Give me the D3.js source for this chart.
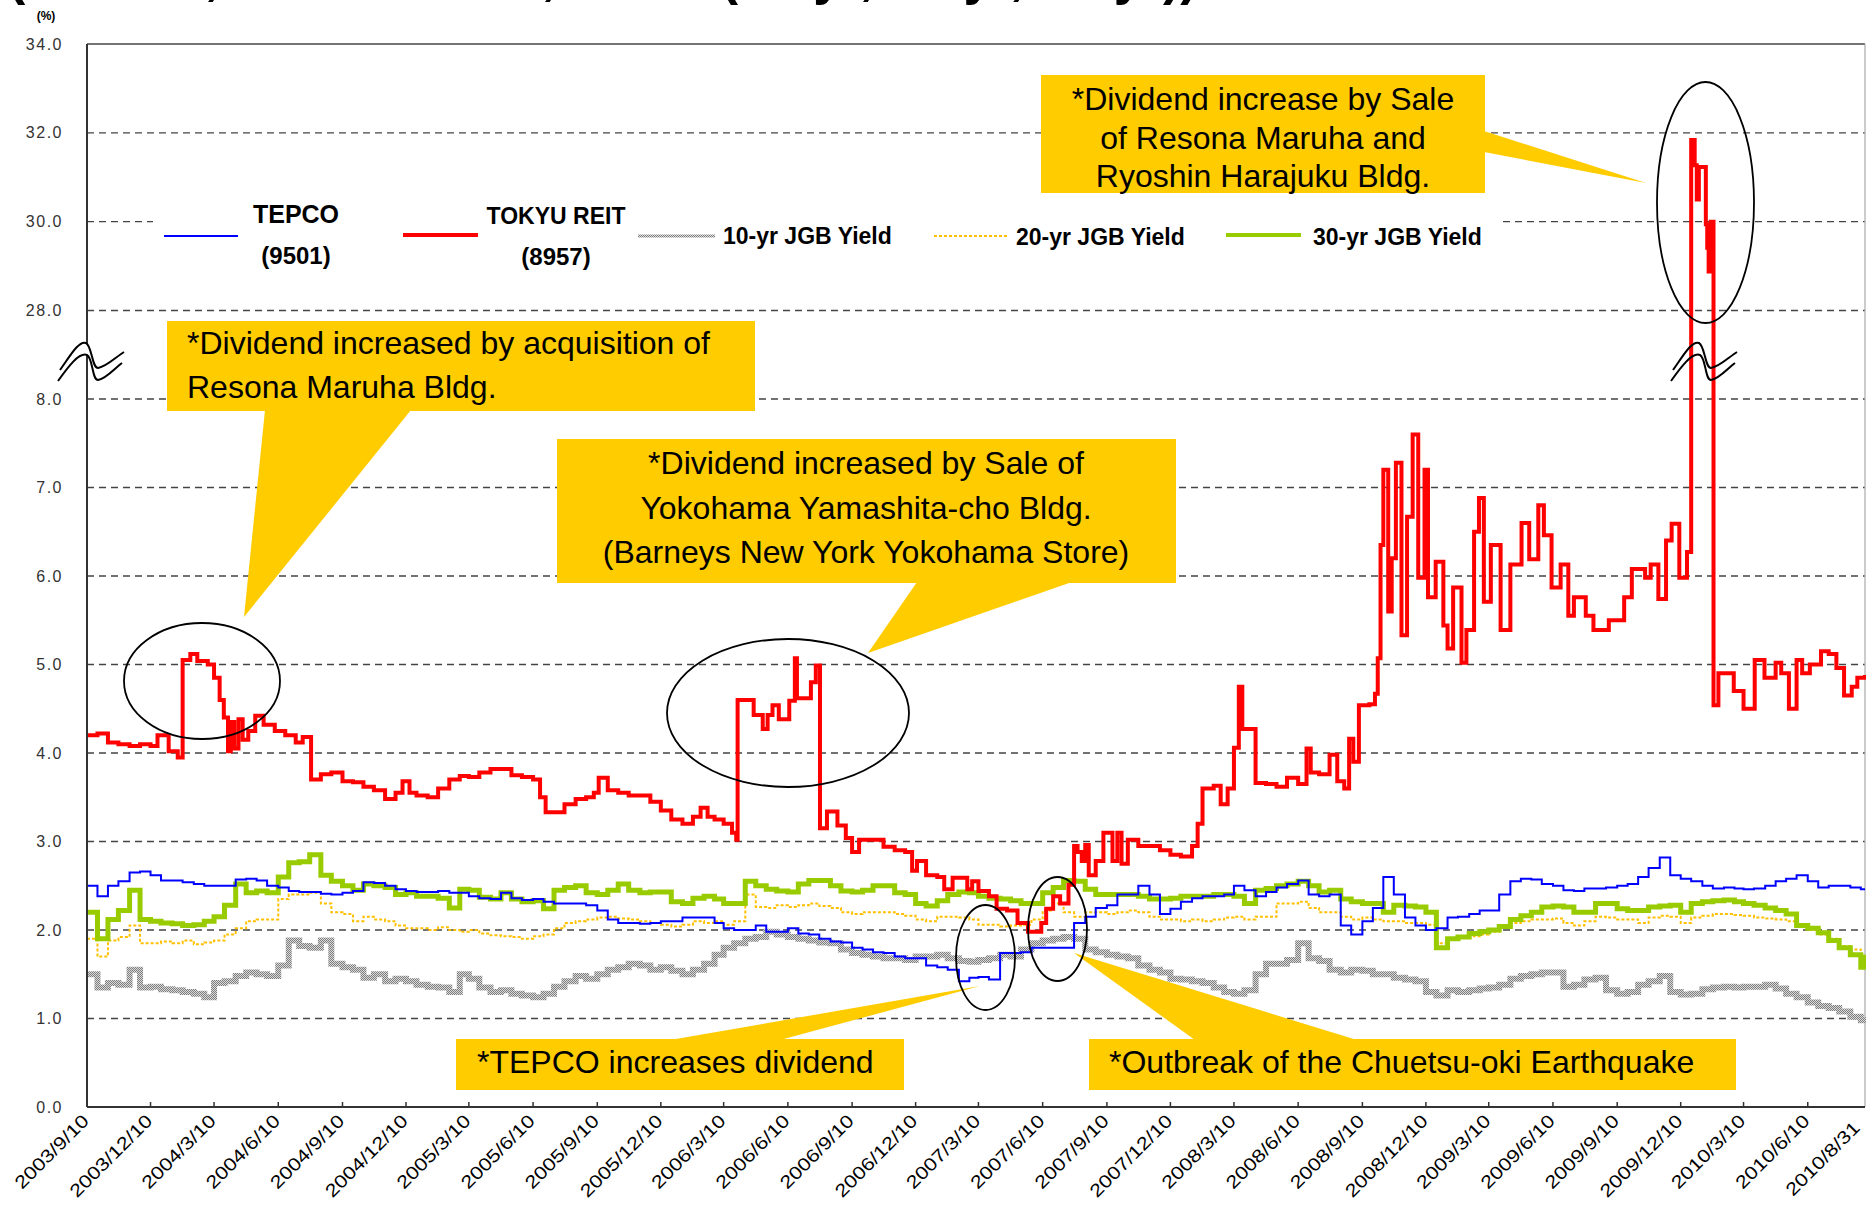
<!DOCTYPE html>
<html><head><meta charset="utf-8">
<script src="https://cdn.jsdelivr.net/npm/d3@7/dist/d3.min.js"></script>
<style>body{margin:0;background:#fff}svg{display:block}</style>
</head><body>
<svg id="c" width="1866" height="1209"></svg>
<script>
// ---------- DATA ----------
const xTickLabels = ["2003/9/10","2003/12/10","2004/3/10","2004/6/10","2004/9/10","2004/12/10","2005/3/10","2005/6/10","2005/9/10","2005/12/10","2006/3/10","2006/6/10","2006/9/10","2006/12/10","2007/3/10","2007/6/10","2007/9/10","2007/12/10","2008/3/10","2008/6/10","2008/9/10","2008/12/10","2009/3/10","2009/6/10","2009/9/10","2009/12/10","2010/3/10","2010/6/10","2010/8/31"];
const yTicks = [0,1,2,3,4,5,6,7,8,28,30,32,34];
const seriesNames = ["TEPCO\n(9501)","TOKYU REIT\n(8957)","10-yr JGB Yield","20-yr JGB Yield","30-yr JGB Yield"];

const lowDates = [
"2003-09-10","2003-09-25","2003-10-10","2003-10-25","2003-11-10","2003-11-25","2003-12-10","2003-12-25",
"2004-01-10","2004-01-25","2004-02-10","2004-02-25","2004-03-10","2004-03-25","2004-04-10","2004-04-25","2004-05-10","2004-05-25","2004-06-10","2004-06-25","2004-07-10","2004-07-25","2004-08-10","2004-08-25","2004-09-10","2004-09-25","2004-10-10","2004-10-25","2004-11-10","2004-11-25","2004-12-10","2004-12-25",
"2005-01-10","2005-01-25","2005-02-10","2005-02-25","2005-03-10","2005-03-25","2005-04-10","2005-04-25","2005-05-10","2005-05-25","2005-06-10","2005-06-25","2005-07-10","2005-07-25","2005-08-10","2005-08-25","2005-09-10","2005-09-25","2005-10-10","2005-10-25","2005-11-10","2005-11-25","2005-12-10","2005-12-25",
"2006-01-10","2006-01-25","2006-02-10","2006-02-25","2006-03-10","2006-03-25","2006-04-10","2006-04-25","2006-05-10","2006-05-25","2006-06-10","2006-06-25","2006-07-10","2006-07-25","2006-08-10","2006-08-25","2006-09-10","2006-09-25","2006-10-10","2006-10-25","2006-11-10","2006-11-25","2006-12-10","2006-12-25",
"2007-01-10","2007-01-25","2007-02-10","2007-02-25","2007-03-10","2007-03-25","2007-04-10","2007-04-25","2007-05-10","2007-05-25","2007-06-10","2007-06-25","2007-07-10","2007-07-25","2007-08-10","2007-08-25","2007-09-10","2007-09-25","2007-10-10","2007-10-25","2007-11-10","2007-11-25","2007-12-10","2007-12-25",
"2008-01-10","2008-01-25","2008-02-10","2008-02-25","2008-03-10","2008-03-25","2008-04-10","2008-04-25","2008-05-10","2008-05-25","2008-06-10","2008-06-25","2008-07-10","2008-07-25","2008-08-10","2008-08-25","2008-09-10","2008-09-25","2008-10-10","2008-10-25","2008-11-10","2008-11-25","2008-12-10","2008-12-25",
"2009-01-10","2009-01-25","2009-02-10","2009-02-25","2009-03-10","2009-03-25","2009-04-10","2009-04-25","2009-05-10","2009-05-25","2009-06-10","2009-06-25","2009-07-10","2009-07-25","2009-08-10","2009-08-25","2009-09-10","2009-09-25","2009-10-10","2009-10-25","2009-11-10","2009-11-25","2009-12-10","2009-12-25",
"2010-01-10","2010-01-25","2010-02-10","2010-02-25","2010-03-10","2010-03-25","2010-04-10","2010-04-25","2010-05-10","2010-05-25","2010-06-10","2010-06-25","2010-07-10","2010-07-25","2010-08-10","2010-08-25","2010-08-31"];

const tepco = [
2.5,2.38,2.5,2.55,2.65,2.66,2.62,2.56,
2.56,2.54,2.52,2.5,2.5,2.5,2.57,2.58,2.56,2.5,2.48,2.44,2.43,2.43,2.41,2.4,2.42,2.44,2.54,2.53,2.5,2.46,2.44,2.43,
2.43,2.44,2.42,2.42,2.38,2.36,2.35,2.42,2.36,2.34,2.35,2.32,2.3,2.3,2.3,2.28,2.22,2.12,2.08,2.08,2.07,2.08,2.1,2.1,
2.14,2.14,2.14,2.08,2.02,2.0,2.0,2.05,1.98,1.98,2.02,1.96,1.95,1.9,1.87,1.86,1.8,1.78,1.75,1.74,1.7,1.68,1.68,1.6,
1.58,1.55,1.42,1.46,1.47,1.44,1.74,1.74,1.75,1.8,1.8,1.8,1.8,2.08,2.15,2.25,2.28,2.4,2.4,2.5,2.4,2.18,2.24,2.32,
2.36,2.38,2.38,2.4,2.5,2.45,2.38,2.43,2.48,2.52,2.56,2.4,2.38,2.4,2.05,1.95,2.1,2.25,2.6,2.4,2.14,2.05,2.0,2.02,
2.14,2.15,2.18,2.22,2.22,2.4,2.55,2.58,2.57,2.52,2.5,2.45,2.44,2.47,2.47,2.48,2.5,2.52,2.6,2.7,2.82,2.62,2.58,2.55,
2.5,2.47,2.48,2.47,2.46,2.47,2.5,2.55,2.58,2.62,2.55,2.48,2.5,2.5,2.48,2.46,2.46];

const jgb30 = [
2.2,1.9,2.12,2.22,2.45,2.12,2.1,2.08,
2.07,2.05,2.06,2.1,2.15,2.28,2.52,2.42,2.44,2.42,2.6,2.76,2.77,2.85,2.62,2.55,2.5,2.45,2.52,2.5,2.48,2.4,2.42,2.38,
2.38,2.36,2.25,2.46,2.45,2.37,2.35,2.42,2.35,2.32,2.33,2.24,2.45,2.48,2.5,2.42,2.4,2.45,2.52,2.45,2.42,2.43,2.43,2.32,
2.3,2.36,2.38,2.35,2.3,2.3,2.55,2.5,2.46,2.44,2.43,2.52,2.56,2.56,2.5,2.44,2.43,2.45,2.5,2.5,2.42,2.4,2.3,2.27,
2.33,2.4,2.43,2.42,2.38,2.36,2.35,2.33,2.3,2.3,2.42,2.48,2.56,2.55,2.46,2.4,2.4,2.4,2.4,2.38,2.35,2.35,2.36,2.38,
2.38,2.38,2.4,2.4,2.38,2.3,2.45,2.47,2.5,2.52,2.55,2.5,2.43,2.45,2.35,2.32,2.3,2.3,2.2,2.28,2.27,2.26,2.2,1.8,
1.9,1.92,1.96,1.98,2.0,2.04,2.12,2.16,2.2,2.26,2.27,2.26,2.2,2.2,2.3,2.3,2.24,2.22,2.22,2.26,2.27,2.28,2.2,2.3,
2.32,2.33,2.34,2.32,2.3,2.28,2.25,2.22,2.18,2.05,2.02,1.97,1.88,1.8,1.72,1.58,1.72];

const jgb20 = [
1.9,1.7,1.88,1.92,2.05,1.85,1.85,1.87,
1.85,1.88,1.84,1.86,1.88,1.95,2.02,2.1,2.12,2.12,2.35,2.4,2.4,2.42,2.3,2.2,2.18,2.1,2.15,2.12,2.1,2.05,2.02,2.02,
2.0,2.03,2.0,1.98,2.0,1.96,1.94,1.93,1.92,1.9,1.93,1.95,2.02,2.08,2.1,2.12,2.14,2.15,2.13,2.12,2.1,2.08,2.06,2.04,
2.06,2.1,2.08,2.1,2.06,2.1,2.4,2.26,2.25,2.28,2.26,2.28,2.3,2.27,2.25,2.2,2.18,2.2,2.2,2.2,2.18,2.16,2.12,2.1,
2.15,2.15,2.14,2.12,2.06,2.06,2.04,2.05,2.06,2.12,2.22,2.3,2.2,2.15,2.2,2.2,2.18,2.2,2.22,2.2,2.15,2.12,2.12,2.1,
2.12,2.1,2.12,2.14,2.15,2.12,2.15,2.15,2.3,2.3,2.32,2.25,2.2,2.2,2.15,2.12,2.14,2.12,2.1,2.1,2.08,2.08,2.06,1.85,
1.9,1.92,1.93,1.95,1.98,2.05,2.08,2.1,2.12,2.12,2.13,2.08,2.05,2.1,2.15,2.14,2.12,2.12,2.08,2.14,2.16,2.15,2.08,2.14,
2.16,2.18,2.18,2.17,2.16,2.14,2.13,2.12,2.1,2.05,2.0,1.95,1.9,1.82,1.78,1.7,1.72];

const jgb10 = [
1.5,1.35,1.4,1.38,1.55,1.35,1.36,1.33,
1.32,1.3,1.28,1.24,1.4,1.42,1.48,1.52,1.5,1.48,1.6,1.88,1.82,1.8,1.88,1.62,1.58,1.55,1.46,1.5,1.42,1.45,1.42,1.38,
1.36,1.35,1.3,1.5,1.45,1.35,1.3,1.32,1.28,1.26,1.24,1.28,1.36,1.42,1.48,1.45,1.5,1.55,1.58,1.62,1.6,1.55,1.58,1.54,
1.5,1.55,1.62,1.72,1.8,1.85,1.9,1.92,1.98,1.95,1.92,1.9,1.88,1.86,1.85,1.78,1.74,1.72,1.7,1.68,1.68,1.66,1.7,1.7,
1.72,1.68,1.65,1.64,1.66,1.68,1.72,1.7,1.78,1.85,1.88,1.9,1.92,1.9,1.78,1.75,1.72,1.7,1.68,1.6,1.55,1.52,1.45,1.44,
1.42,1.4,1.35,1.3,1.28,1.32,1.5,1.62,1.62,1.66,1.85,1.68,1.65,1.55,1.52,1.55,1.54,1.5,1.5,1.46,1.44,1.42,1.3,1.26,
1.32,1.3,1.32,1.34,1.35,1.38,1.45,1.48,1.5,1.52,1.52,1.36,1.38,1.44,1.46,1.32,1.28,1.3,1.38,1.42,1.48,1.3,1.27,1.28,
1.33,1.35,1.36,1.35,1.36,1.36,1.38,1.34,1.28,1.24,1.18,1.14,1.12,1.08,1.02,0.98,0.96];

const reitDates = [
"2003-09-10","2003-09-25","2003-10-10","2003-10-25","2003-11-10","2003-11-25","2003-12-10","2003-12-20",
"2004-01-05","2004-01-18","2004-01-25","2004-02-05","2004-02-15","2004-03-01","2004-03-10","2004-03-18","2004-03-24","2004-03-30","2004-04-03","2004-04-08","2004-04-14","2004-04-20","2004-04-28","2004-05-08","2004-05-20","2004-06-05","2004-06-20","2004-07-05","2004-07-15","2004-07-27","2004-08-10","2004-08-25","2004-09-10","2004-09-25","2004-10-10","2004-10-25","2004-11-10","2004-11-25","2004-12-05","2004-12-15","2004-12-25",
"2005-01-10","2005-01-25","2005-02-10","2005-02-25","2005-03-10","2005-03-25","2005-04-10","2005-04-25","2005-05-10","2005-05-25","2005-06-10","2005-06-20","2005-06-28","2005-07-10","2005-07-25","2005-08-10","2005-08-25","2005-09-05","2005-09-12","2005-09-25","2005-10-10","2005-10-25","2005-11-10","2005-11-25","2005-12-10","2005-12-25",
"2006-01-10","2006-01-25","2006-02-05","2006-02-15","2006-02-25","2006-03-10","2006-03-22","2006-03-28","2006-03-30","2006-04-22","2006-05-05","2006-05-12","2006-05-19","2006-05-28","2006-06-12","2006-06-20","2006-06-23","2006-07-13","2006-07-20","2006-07-26","2006-08-05","2006-08-20","2006-09-01","2006-09-10","2006-09-20","2006-10-10","2006-10-25","2006-11-10","2006-11-25","2006-12-05","2006-12-12","2006-12-25",
"2007-01-10","2007-01-20","2007-02-01","2007-02-15","2007-02-22","2007-03-01","2007-03-10","2007-03-25","2007-04-05","2007-04-20","2007-05-05","2007-05-20","2007-06-08","2007-06-15","2007-06-25","2007-07-05","2007-07-17","2007-07-25","2007-07-30","2007-08-05","2007-08-10","2007-08-15","2007-08-25","2007-09-05","2007-09-18","2007-09-25","2007-10-01","2007-10-10","2007-10-25","2007-11-10","2007-11-25","2007-12-10","2007-12-25",
"2008-01-10","2008-01-18","2008-01-25","2008-02-10","2008-02-20","2008-03-01","2008-03-10","2008-03-17","2008-03-22","2008-04-01","2008-04-10","2008-04-25","2008-05-10","2008-05-25","2008-06-10","2008-06-22","2008-06-28","2008-07-10","2008-07-25","2008-08-05","2008-08-15","2008-08-22","2008-08-28","2008-09-05","2008-09-20","2008-09-28","2008-10-02","2008-10-06","2008-10-10","2008-10-17","2008-10-22","2008-10-28","2008-11-05","2008-11-13","2008-11-21","2008-11-29","2008-12-08","2008-12-13","2008-12-24",
"2009-01-04","2009-01-10","2009-01-18","2009-01-30","2009-02-06","2009-02-17","2009-02-24","2009-03-03","2009-03-13","2009-03-27","2009-04-10","2009-04-26","2009-05-07","2009-05-20","2009-05-28","2009-06-08","2009-06-21","2009-07-02","2009-07-10","2009-07-27","2009-08-07","2009-08-29","2009-09-20","2009-10-01","2009-10-20","2009-10-28","2009-11-08","2009-11-19","2009-11-27","2009-12-08","2009-12-19","2009-12-25","2009-12-30",
"2010-01-02","2010-01-05","2010-01-15","2010-01-17","2010-01-19","2010-01-22","2010-01-26","2010-02-02","2010-02-24","2010-03-10","2010-03-26","2010-04-09","2010-04-25","2010-05-03","2010-05-14","2010-05-25","2010-06-02","2010-06-13","2010-06-29","2010-07-10","2010-07-21","2010-08-01","2010-08-12","2010-08-20","2010-08-31"];

const reit = [
4.2,4.22,4.12,4.1,4.08,4.1,4.08,4.2,
4.02,3.95,5.05,5.12,5.04,5.0,4.85,4.6,4.4,4.02,4.35,4.05,4.38,4.15,4.25,4.42,4.32,4.25,4.2,4.12,4.18,3.7,3.76,3.78,3.68,3.67,3.62,3.58,3.48,3.55,3.68,3.55,3.52,
3.5,3.6,3.7,3.74,3.73,3.78,3.82,3.82,3.75,3.73,3.7,3.5,3.33,3.33,3.42,3.48,3.5,3.55,3.72,3.58,3.55,3.52,3.52,3.45,3.35,3.25,
3.2,3.28,3.38,3.28,3.25,3.2,3.1,3.02,4.6,4.43,4.27,4.43,4.54,4.38,4.59,5.07,4.62,4.8,4.99,3.15,3.34,3.18,3.04,2.88,3.02,3.02,2.94,2.9,2.88,2.67,2.78,2.62,
2.6,2.46,2.59,2.59,2.46,2.55,2.44,2.38,2.24,2.22,2.08,1.98,2.08,2.24,2.38,2.3,2.51,2.95,2.88,2.78,2.96,2.62,2.78,3.1,2.78,3.1,2.75,3.02,2.95,2.95,2.9,2.85,2.83,
2.95,3.2,3.6,3.63,3.42,3.6,4.06,4.75,4.27,4.27,3.66,3.65,3.62,3.72,3.65,4.05,3.78,3.76,3.98,3.68,3.6,4.16,3.9,4.54,4.55,4.67,5.07,6.35,7.2,5.6,6.2,7.28,5.33,6.67,7.6,5.98,7.2,5.76,6.16,
5.44,5.18,5.87,5.02,5.39,6.5,6.88,5.71,6.35,5.39,6.13,6.6,6.19,6.8,6.46,5.87,6.13,5.55,5.76,5.55,5.39,5.5,5.76,6.08,5.98,6.13,5.74,6.4,6.59,5.98,6.27,31.84,31.27,
30.5,31.23,29.94,29.41,28.88,30.0,4.54,4.9,4.7,4.5,5.05,4.85,5.02,4.9,4.5,5.05,4.9,5.0,5.15,5.12,4.96,4.65,4.75,4.85,4.88];

// ---------- SETUP ----------
const FONT = "'Liberation Sans', Arial, Helvetica, sans-serif";
const svg = d3.select("#c");
const parseISO = d3.timeParse("%Y-%m-%d");
const parseTick = d3.timeParse("%Y/%m/%d");
const L = 87, R = 1865, T = 44, B = 1107;

const x = d3.scaleTime().domain([parseISO("2003-09-10"), parseISO("2010-08-31")]).range([L, R]);
// broken axis: 0..8 and 28..34, each tick step is an equal distance
const y = d3.scaleLinear().domain([0, 8, 28, 34]).range([B, 399, 310.5, T]);

const defs = svg.append("defs");
const pat = defs.append("pattern").attr("id","hatch").attr("patternUnits","userSpaceOnUse").attr("width",2).attr("height",2);
pat.append("rect").attr("width",2).attr("height",2).attr("fill","#dadada");
pat.append("rect").attr("width",1).attr("height",1).attr("fill","#7e7e7e");
pat.append("rect").attr("x",1).attr("y",1).attr("width",1).attr("height",1).attr("fill","#7e7e7e");

svg.append("rect").attr("width",1866).attr("height",1209).attr("fill","#fff");

// partially visible title (cut off at top as in the source)
svg.append("text").attr("x",8).attr("y",-6).attr("font-family",FONT).attr("font-weight","bold")
  .attr("font-size",52).attr("fill","#000").text("(TEPCO, TOKYU REIT, JGBs (10-yr, 20-yr, 30-yr))");

svg.append("text").attr("x",46).attr("y",20).attr("text-anchor","middle").attr("font-family",FONT)
  .attr("font-weight","bold").attr("font-size",12).text("(%)");

// gridlines
svg.append("g").selectAll("line").data(yTicks.filter(d => d > 0 && d < 34)).join("line")
  .attr("x1", L).attr("x2", R).attr("y1", d => y(d)).attr("y2", d => y(d))
  .attr("stroke","#444").attr("stroke-width",1.3).attr("stroke-dasharray","7,5");

// y tick labels
svg.append("g").selectAll("text").data(yTicks).join("text")
  .attr("x", 63).attr("y", d => y(d)).attr("dy","0.35em").attr("text-anchor","end")
  .attr("font-family",FONT).attr("font-size",16).attr("letter-spacing","1.5px").attr("fill","#333")
  .text(d => d3.format(".1f")(d));

// frame
svg.append("line").attr("x1",L).attr("x2",R).attr("y1",T).attr("y2",T).attr("stroke","#444").attr("stroke-width",1.5);
svg.append("line").attr("x1",R).attr("x2",R).attr("y1",T).attr("y2",B).attr("stroke","#aaa").attr("stroke-width",1.2);

// ---------- LINES ----------
const lowPts = arr => arr.map((v,i) => [parseISO(lowDates[i]), v]);
const line = d3.line().x(d => x(d[0])).y(d => y(d[1])).curve(d3.curveStepAfter);
const g = svg.append("g").attr("fill","none").attr("stroke-linejoin","miter");
g.append("path").attr("d", line(lowPts(jgb10))).attr("stroke","url(#hatch)").attr("stroke-width",6);
g.append("path").attr("d", line(lowPts(jgb20))).attr("stroke","#FFC000").attr("stroke-width",2).attr("stroke-dasharray","3,2");
g.append("path").attr("d", line(lowPts(jgb30))).attr("stroke","#99CC00").attr("stroke-width",5);
g.append("path").attr("d", line(lowPts(tepco))).attr("stroke","#0000FF").attr("stroke-width",2);
g.append("path").attr("d", line(reit.map((v,i) => [parseISO(reitDates[i]), v]))).attr("stroke","#FF0000").attr("stroke-width",4);

// axes
svg.append("line").attr("x1",L).attr("x2",L).attr("y1",T).attr("y2",B).attr("stroke","#333").attr("stroke-width",2);
svg.append("line").attr("x1",L).attr("x2",R).attr("y1",B).attr("y2",B).attr("stroke","#333").attr("stroke-width",2);
const tickDates = xTickLabels.map(s => parseTick(s));
svg.append("g").selectAll("line").data(tickDates.slice(1, -1)).join("line")
  .attr("x1", d => x(d)).attr("x2", d => x(d)).attr("y1", B).attr("y2", B - 5).attr("stroke","#333").attr("stroke-width",1.5);
const nT = xTickLabels.length;
svg.append("g").selectAll("text").data(xTickLabels).join("text")
  .attr("transform", (d,i) => {
    const tx = i === nT - 1 ? R - 4 : x(tickDates[i]) + 3;
    const ty = i === nT - 1 ? B + 22 : B + 15;
    return `translate(${tx},${ty}) rotate(-45) scale(1.2,1)`;
  })
  .attr("text-anchor","end").attr("font-family",FONT).attr("font-size",18).attr("fill","#000")
  .text(d => d);

// ---------- AXIS BREAKS ----------
function brk(dx, fill) {
  const up = `M${60+dx},370 C${70+dx},356 ${79+dx},340 ${86+dx},343 C${92+dx},346 ${92+dx},368 ${98+dx},368 C${106+dx},367 ${116+dx},357 ${124+dx},352`;
  const lo = `M${58+dx},381 C${68+dx},367 ${79+dx},352 ${87+dx},355 C${93+dx},358 ${92+dx},380 ${98+dx},380 C${106+dx},379 ${115+dx},368 ${122+dx},363`;
  if (fill) {
    svg.append("path").attr("fill","#fff").attr("stroke","none")
      .attr("d", `M${60+dx},370 C${70+dx},356 ${79+dx},340 ${86+dx},343 C${92+dx},346 ${92+dx},368 ${98+dx},368 C${106+dx},367 ${116+dx},357 ${124+dx},352 L${122+dx},363 C${115+dx},368 ${106+dx},379 ${98+dx},380 C${92+dx},380 ${93+dx},358 ${87+dx},355 C${79+dx},352 ${68+dx},367 ${58+dx},381 Z`);
  }
  svg.append("path").attr("d", up).attr("fill","none").attr("stroke","#000").attr("stroke-width",2);
  svg.append("path").attr("d", lo).attr("fill","none").attr("stroke","#000").attr("stroke-width",2);
}
brk(0, true);
brk(1613, false);

// ---------- LEGEND ----------
svg.append("rect").attr("x",153).attr("y",196).attr("width",1350).attr("height",100).attr("fill","#fff");
const lg = svg.append("g").attr("font-family",FONT).attr("font-weight","bold").attr("fill","#000");
lg.append("line").attr("x1",164).attr("x2",238).attr("y1",236).attr("y2",236).attr("stroke","#0000FF").attr("stroke-width",2);
lg.append("text").attr("x",296).attr("y",223).attr("text-anchor","middle").attr("font-size",25).text(seriesNames[0].split("\n")[0]);
lg.append("text").attr("x",296).attr("y",264).attr("text-anchor","middle").attr("font-size",24).text(seriesNames[0].split("\n")[1]);
lg.append("line").attr("x1",403).attr("x2",478).attr("y1",235).attr("y2",235).attr("stroke","#FF0000").attr("stroke-width",4);
lg.append("text").attr("x",556).attr("y",224).attr("text-anchor","middle").attr("font-size",23).text(seriesNames[1].split("\n")[0]);
lg.append("text").attr("x",556).attr("y",265).attr("text-anchor","middle").attr("font-size",24).text(seriesNames[1].split("\n")[1]);
lg.append("line").attr("x1",638).attr("x2",715).attr("y1",236).attr("y2",236).attr("stroke","url(#hatch)").attr("stroke-width",3);
lg.append("text").attr("x",723).attr("y",244).attr("font-size",23).text(seriesNames[2]);
lg.append("line").attr("x1",934).attr("x2",1007).attr("y1",236).attr("y2",236).attr("stroke","#FFC000").attr("stroke-width",2).attr("stroke-dasharray","3,2");
lg.append("text").attr("x",1016).attr("y",245).attr("font-size",23).text(seriesNames[3]);
lg.append("line").attr("x1",1226).attr("x2",1301).attr("y1",235).attr("y2",235).attr("stroke","#99CC00").attr("stroke-width",4);
lg.append("text").attr("x",1313).attr("y",245).attr("font-size",23).text(seriesNames[4]);

// ---------- ANNOTATIONS ----------
const YEL = "#FFCC00";
const an = svg.append("g").attr("font-family",FONT).attr("font-size",32).attr("fill","#000");
function box(x0, y0, x1, y1, ptr) {
  an.append("polygon").attr("points", ptr.map(p => p.join(",")).join(" ")).attr("fill", YEL);
  an.append("rect").attr("x",x0).attr("y",y0).attr("width",x1-x0).attr("height",y1-y0).attr("fill",YEL);
}
function lines(arr, xx, y0, dy, anchor) {
  arr.forEach((s,i) => an.append("text").attr("x",xx).attr("y",y0 + i*dy).attr("text-anchor",anchor).text(s));
}
box(167, 321, 755, 411, [[265,410],[411,410],[244,617]]);
lines(["*Dividend increased by acquisition of","Resona Maruha Bldg."], 187, 354, 44, "start");
box(557, 439, 1176, 583, [[917,582],[1072,582],[868,653]]);
lines(["*Dividend increased by Sale of","Yokohama Yamashita-cho Bldg.","(Barneys New York Yokohama Store)"], 866, 474, 44.5, "middle");
box(1041, 75, 1485, 193, [[1484,131],[1484,152],[1646,183]]);
lines(["*Dividend increase by Sale","of Resona Maruha and","Ryoshin Harajuku Bldg."], 1263, 110, 38.5, "middle");
box(456, 1039, 904, 1090, [[670,1040],[780,1040],[980,986]]);
lines(["*TEPCO increases dividend"], 477, 1073, 0, "start");
box(1089, 1039, 1736, 1090, [[1074,953],[1195,1040],[1357,1040]]);
lines(["*Outbreak of the Chuetsu-oki Earthquake"], 1109, 1073, 0, "start");

const el = svg.append("g").attr("fill","none").attr("stroke","#000").attr("stroke-width",1.8);
[[202,681,78,58],[788,713,121,74],[985.5,957.5,29.5,52.5],[1057.5,929,29.5,52],[1705.5,202.5,48.5,120.5]]
  .forEach(e => el.append("ellipse").attr("cx",e[0]).attr("cy",e[1]).attr("rx",e[2]).attr("ry",e[3]));
</script>
</body></html>
